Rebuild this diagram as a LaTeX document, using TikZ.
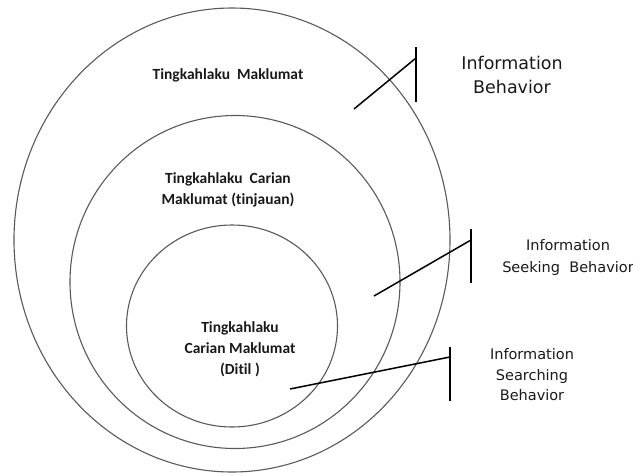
\documentclass[tikz,border=0pt]{standalone}
\usepackage{fontspec}
\setmainfont{DejaVu Sans}
\newfontfamily\calibri[Ligatures=NoCommon]{Carlito}
\usetikzlibrary{shapes.geometric}

\tikzset{
  ring/.style={draw=black!65, line width=1.1pt, ellipse, inner sep=0pt},
  lead/.style={line width=1.5pt},
  inlabel/.style={font=\calibri\bfseries\fontsize{15.5}{21}\selectfont, align=center, text=black!90},
  outlabel/.style={align=center, text=black!90}
}

\begin{document}
\begin{tikzpicture}[x=1pt,y=-1pt]
    \useasboundingbox (0,0) rectangle (633,475);

    % the three nested rings
    \node[ring, minimum width=436pt, minimum height=464pt] (outer) at (232,240) {};
    \node[ring, minimum width=330pt, minimum height=333pt] (middle) at (235,282) {};
    \node[ring, minimum width=211pt, minimum height=202pt] (inner) at (232,326) {};

    % texts inside
    \node[inlabel] (tm) at (228,75) {Tingkahlaku\ \ Maklumat};
    \node[inlabel] (tcm) at (228,190) {Tingkahlaku\ \ Carian\\Maklumat (tinjauan)};
    \node[inlabel] (tcmd) at (240,349) {Tingkahlaku\\Carian Maklumat\\(Ditil )};

    % texts outside
    \node[outlabel, font=\fontsize{17.5}{24}\selectfont] (ib) at (512,75) {Information\\Behavior};
    \node[outlabel, font=\fontsize{14.5}{22}\selectfont] (isb) at (568,257) {Information\\Seeking\ \ Behavior};
    \node[outlabel, font=\fontsize{14.5}{20.5}\selectfont] (isrb) at (532,375) {Information\\Searching\\Behavior};

    % leader lines with bars
    \coordinate (ibTip) at (354,109);
    \coordinate (ibEnd) at (416,58);
    \coordinate (ibTop) at (416,47);
    \coordinate (ibBot) at (416,102);
    \coordinate (isbTip) at (374,296);
    \coordinate (isbEnd) at (471,240);
    \coordinate (isbTop) at (471,229);
    \coordinate (isbBot) at (471,283);
    \coordinate (isrbTip) at (290,389);
    \coordinate (isrbEnd) at (450,357);
    \coordinate (isrbTop) at (450,347);
    \coordinate (isrbBot) at (450,401);

    \foreach \n in {ib,isb,isrb} {
      \draw[lead] (\n Tip) -- (\n End);
      \draw[lead] (\n Top) -- (\n Bot);
    }

\end{tikzpicture}
\end{document}
